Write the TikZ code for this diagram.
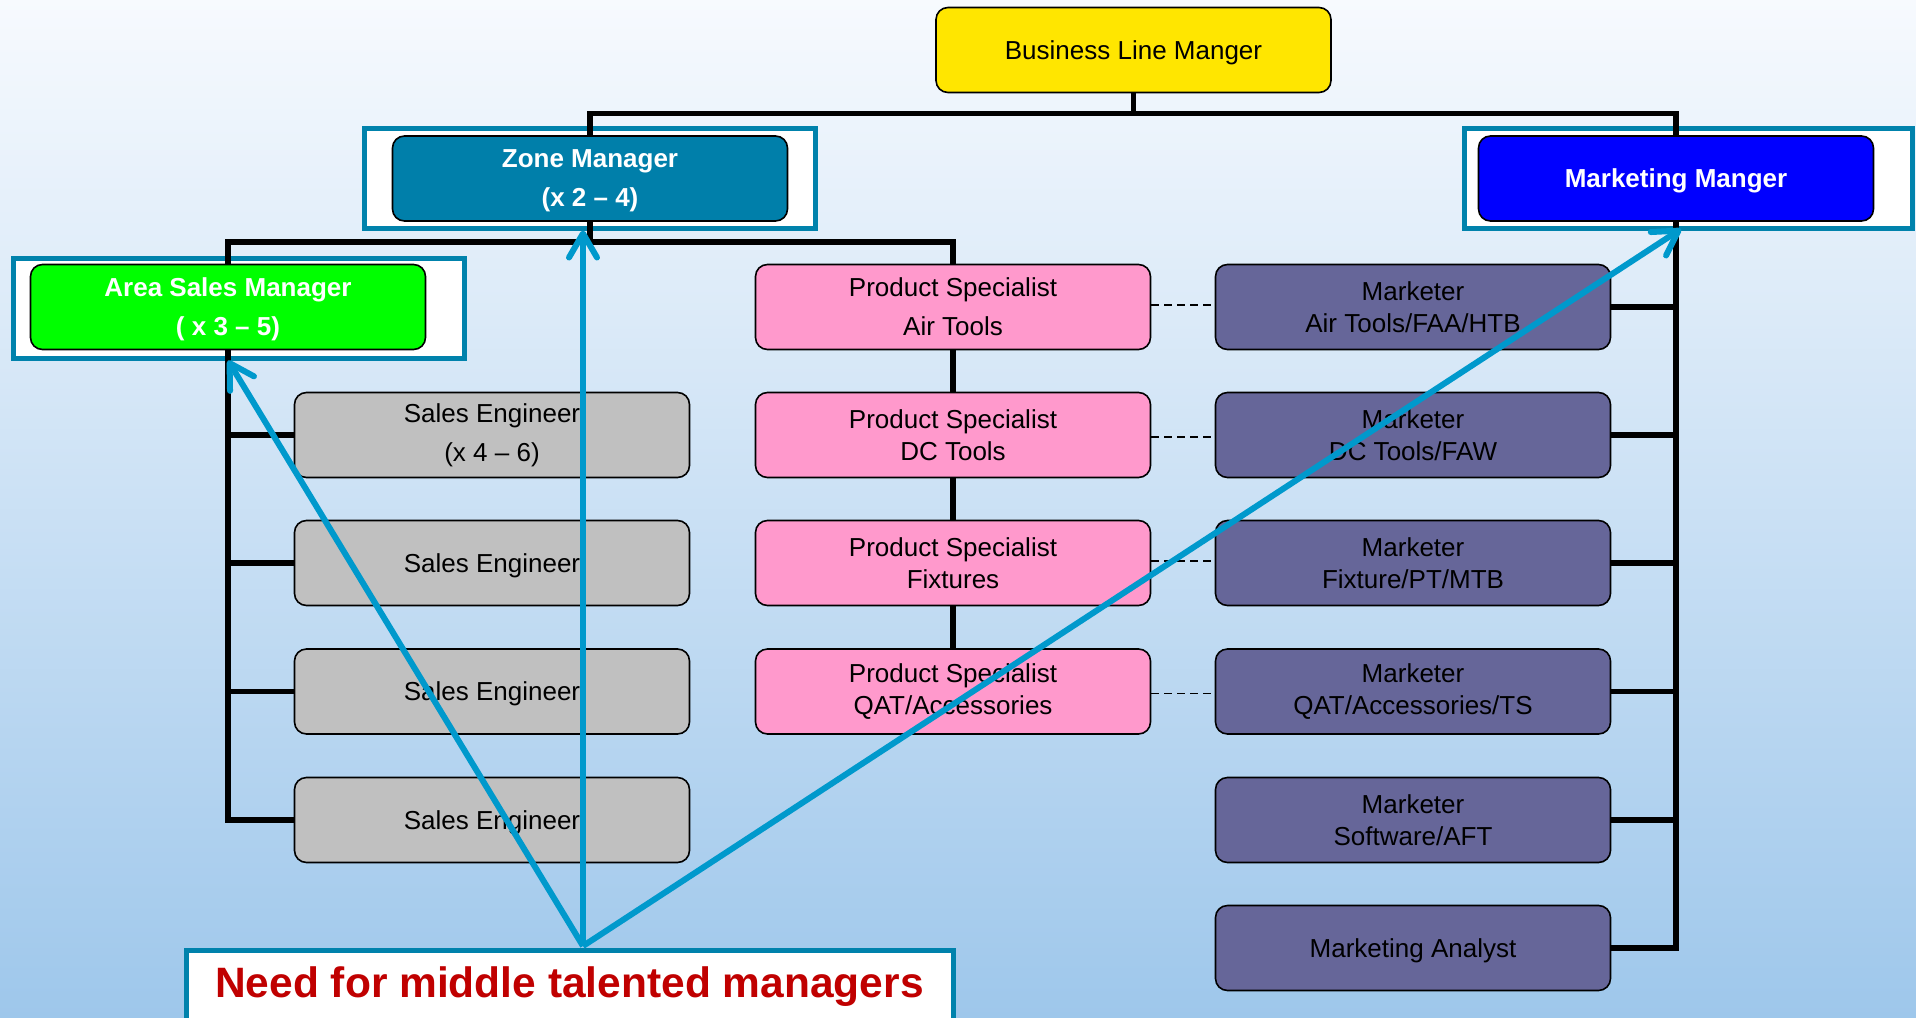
\documentclass[tikz,border=0pt]{standalone}
\usepackage{fontspec}
\setmainfont{Liberation Sans}
\usetikzlibrary{arrows.meta}
\definecolor{bgtop}{HTML}{F7FAFE}
\definecolor{bgbot}{HTML}{9EC7EB}
\definecolor{blmcol}{HTML}{FFE600}
\definecolor{zmcol}{HTML}{007FAA}
\definecolor{mmcol}{HTML}{0000FF}
\definecolor{asmcol}{HTML}{00FF00}
\definecolor{secol}{HTML}{C0C0C0}
\definecolor{pscol}{HTML}{FF99CC}
\definecolor{macol}{HTML}{666699}
\definecolor{framecol}{HTML}{0082AC}
\definecolor{arrcol}{HTML}{0099CC}
\definecolor{redtxt}{HTML}{C00000}
\tikzset{
  box/.style={draw=black, line width=1.6pt, rounded corners=12pt, minimum width=395pt, minimum height=85pt, inner sep=0pt, align=center, font=\fontsize{26}{32}\selectfont},
  wide/.style={font=\fontsize{26}{39}\selectfont},
  boldw/.style={text=white, font=\fontsize{26}{39}\selectfont\bfseries},
  lower/.style={text depth=-1.5pt},
  lowermore/.style={text depth=-4.5pt},
  frame/.style={draw=framecol, fill=white, line width=5pt, inner sep=0pt},
  tree/.style={draw=black, line width=5.5pt},
  dsh/.style={draw=black, line width=1.8pt, dash pattern=on 8pt off 5pt},
  arr/.style={draw=arrcol, line width=6pt, -{Straight Barb[length=24pt,width=28pt,round]}},
}
\begin{document}
\begin{tikzpicture}[x=1pt,y=-1pt]
\useasboundingbox (0,0) rectangle (1916,1017);
\shade[top color=bgtop, bottom color=bgbot] (0,0) rectangle (1916,1017);

% highlight frames
\node[frame, minimum width=451pt, minimum height=100pt] (zmf) at (589.5,178) {};
\node[frame, minimum width=448pt, minimum height=100pt] (mmf) at (1688,178) {};
\node[frame, minimum width=451pt, minimum height=100pt] (asmf) at (238.5,308) {};

% connector junctions
\coordinate (j1) at (1133.5,113.6);
\coordinate (j2) at (590,242);

% nodes
\node[box, fill=blmcol, lower] (blm) at (1133.5,50) {Business Line Manger};
\node[box, fill=zmcol, boldw, lowermore] (zm) at (590,178.5) {Zone Manager\\(x 2 – 4)};
\node[box, fill=mmcol, boldw, lower] (mm) at (1676,178.5) {Marketing Manger};
\node[box, fill=asmcol, boldw, lower] (asm) at (228,307) {Area Sales Manager\\( x 3 – 5)};

\node[box, fill=secol, wide] (se1) at (492,435) {Sales Engineer\\(x 4 – 6)};
\node[box, fill=secol, lower] (se2) at (492,563) {Sales Engineer};
\node[box, fill=secol, lower] (se3) at (492,691.5) {Sales Engineer};
\node[box, fill=secol, lower] (se4) at (492,820) {Sales Engineer};

\node[box, fill=pscol, wide] (ps1) at (953,307) {Product Specialist\\Air Tools};
\node[box, fill=pscol] (ps2) at (953,435) {Product Specialist\\DC Tools};
\node[box, fill=pscol] (ps3) at (953,563) {Product Specialist\\Fixtures};
\node[box, fill=pscol] (ps4) at (953,691.5) {Product Specialist\\QAT/Accessories};

\node[box, fill=macol] (ma1) at (1413,307) {Marketer\\Air Tools/FAA/HTB};
\node[box, fill=macol] (ma2) at (1413,435) {Marketer\\DC Tools/FAW};
\node[box, fill=macol] (ma3) at (1413,563) {Marketer\\Fixture/PT/MTB};
\node[box, fill=macol] (ma4) at (1413,691.5) {Marketer\\QAT/Accessories/TS};
\node[box, fill=macol] (ma5) at (1413,820) {Marketer\\Software/AFT};
\node[box, fill=macol, lower] (ma6) at (1413,948) {Marketing Analyst};

% bottom box
\node[draw=framecol, fill=white, line width=5pt, minimum width=767pt, minimum height=100pt, anchor=north, inner sep=0pt] (need) at (569.5,948) {};
\node[text=redtxt, font=\fontsize{42.5}{50}\selectfont\bfseries] (needtxt) at (569.5,987) {Need for middle talented managers};

% tree connectors
\draw[tree] (blm.south) -- (j1);
\draw[tree] (zm.north) |- (j1) -| (mm.north);
\draw[tree] (zm.south) -- (j2);
\draw[tree] (asm.north) |- (j2) -| (ps1.north);
\draw[tree] (ps1.south) -- (ps2.north);
\draw[tree] (ps2.south) -- (ps3.north);
\draw[tree] (ps3.south) -- (ps4.north);
\draw[tree] (asm.south) |- (se4.west);
\draw[tree] (asm.south |- se1.west) -- (se1.west);
\draw[tree] (asm.south |- se2.west) -- (se2.west);
\draw[tree] (asm.south |- se3.west) -- (se3.west);
\draw[tree] (mm.south) |- (ma6.east);
\draw[tree] (mm.south |- ma1.east) -- (ma1.east);
\draw[tree] (mm.south |- ma2.east) -- (ma2.east);
\draw[tree] (mm.south |- ma3.east) -- (ma3.east);
\draw[tree] (mm.south |- ma4.east) -- (ma4.east);
\draw[tree] (mm.south |- ma5.east) -- (ma5.east);

% dashed links
\draw[dsh] ([yshift=2pt]ps1.east) -- ([yshift=2pt]ma1.west);
\draw[dsh] ([yshift=-2pt]ps2.east) -- ([yshift=-2pt]ma2.west);
\draw[dsh] ([yshift=2pt]ps3.east) -- ([yshift=2pt]ma3.west);
\draw[dsh] ([yshift=-2pt]ps4.east) -- ([yshift=-2pt]ma4.west);

% blue arrows
\coordinate (src) at (583,946);
\coordinate (tmm) at (1681,229);
\draw[arr] (src) -- (asm.south |- asmf.south);
\draw[arr] (src) -- (src |- zmf.south);
\draw[arr] (src) -- (tmm);
\end{tikzpicture}
\end{document}
